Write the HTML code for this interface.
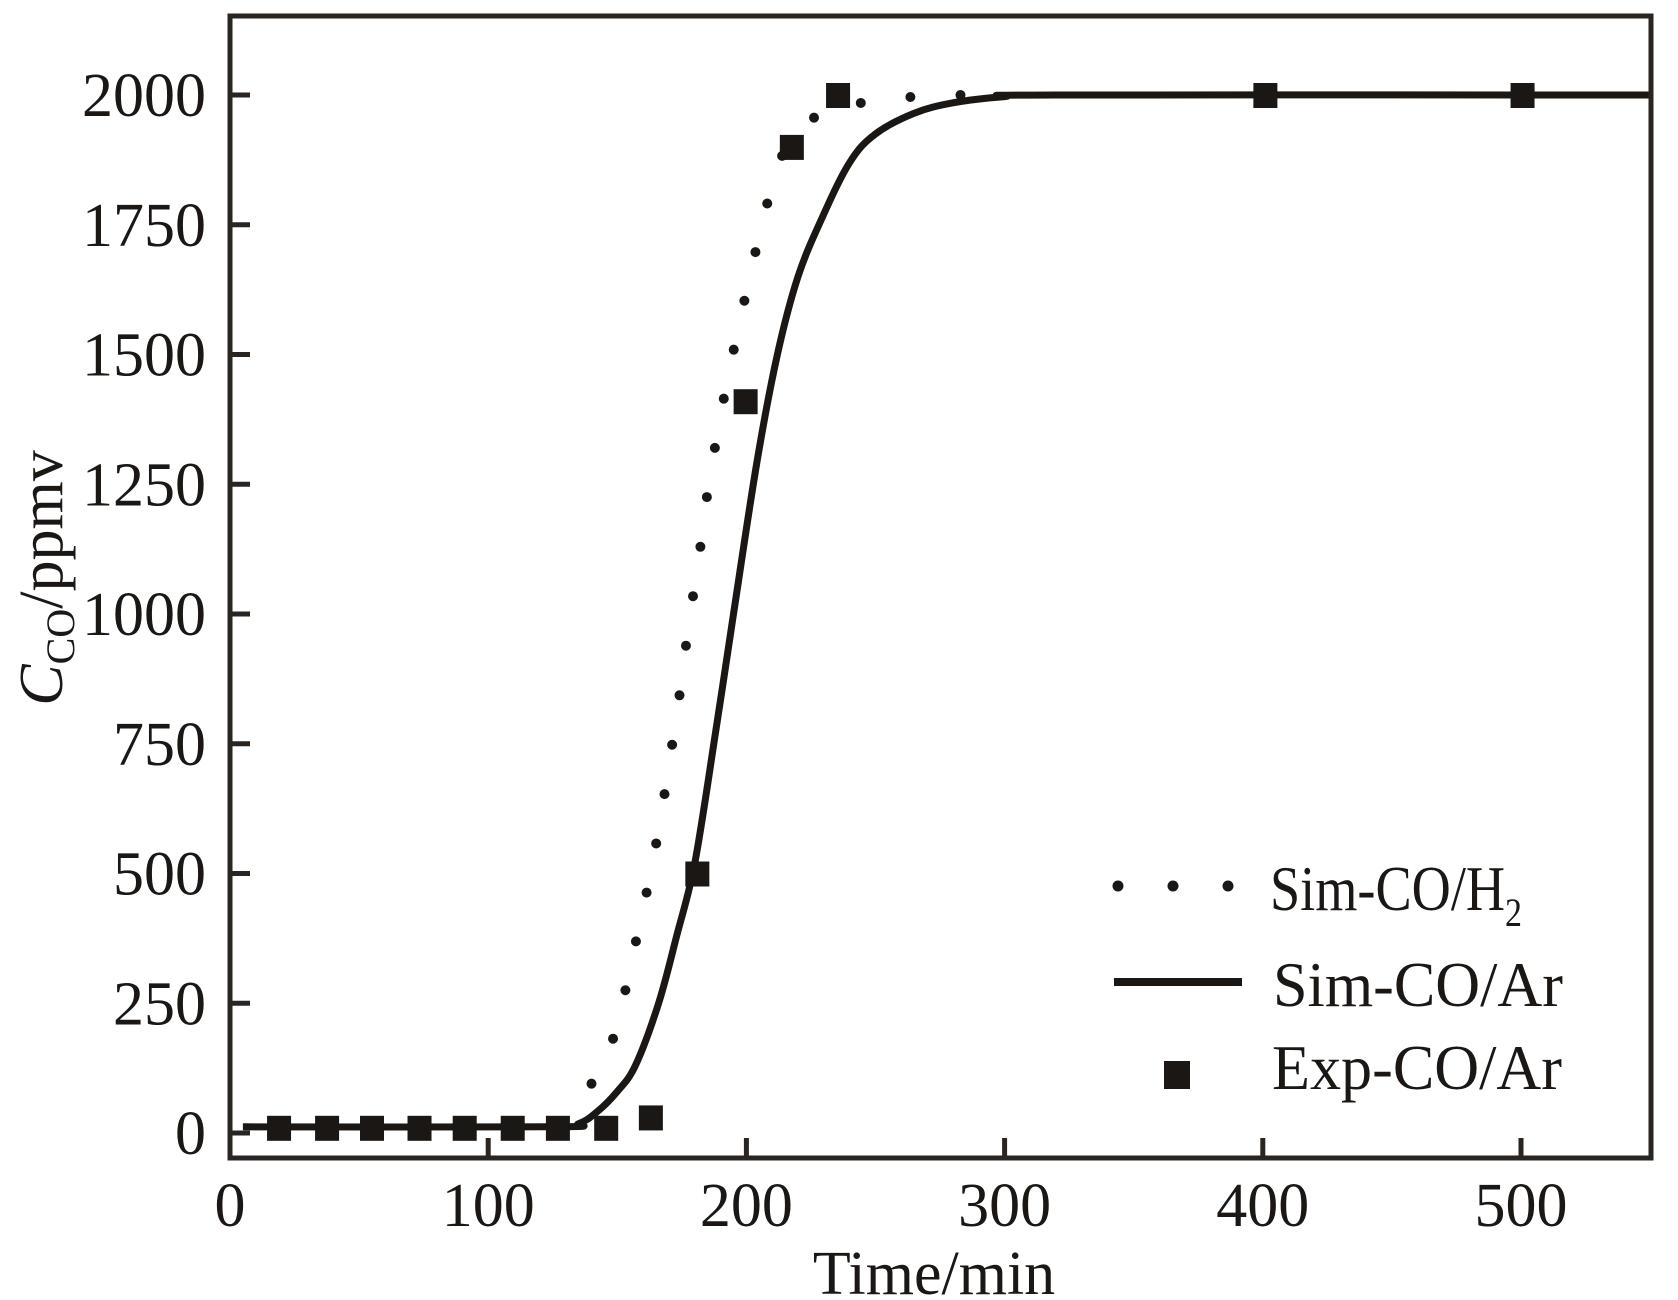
<!DOCTYPE html>
<html><head><meta charset="utf-8"><style>
html,body{margin:0;padding:0;background:#fff;}
svg{display:block;}
text{font-family:"Liberation Serif",serif;fill:#1a1714;}
</style></head><body>
<svg id="chart" width="1678" height="1300" viewBox="0 0 1678 1300" xmlns="http://www.w3.org/2000/svg">
<g id="plot"></g>
<g id="axes"></g>
<g id="legend">
  <line x1="1118" y1="886" x2="1229" y2="886" stroke="#1a1714" stroke-width="11" stroke-linecap="round" stroke-dasharray="0 55"/>
  <text x="1270" y="910" font-size="64" textLength="252" lengthAdjust="spacingAndGlyphs">Sim-CO/H<tspan font-size="40" dy="16">2</tspan></text>
  <line x1="1114" y1="982" x2="1242" y2="982" stroke="#1a1714" stroke-width="8"/>
  <text x="1273" y="1006" font-size="64" textLength="290" lengthAdjust="spacingAndGlyphs">Sim-CO/Ar</text>
  <rect x="1164" y="1061" width="26" height="28" fill="#1a1714"/>
  <text x="1272" y="1089" font-size="64" textLength="290" lengthAdjust="spacingAndGlyphs">Exp-CO/Ar</text>
</g>
<text x="934" y="1294" font-size="62" text-anchor="middle">Time/min</text>
<text transform="translate(62,578) rotate(-90)" font-size="62" text-anchor="middle"><tspan font-style="italic">C</tspan><tspan font-size="40" dy="12">CO</tspan><tspan dy="-12">/ppmv</tspan></text>
</svg>
<script>
const xTicks = [0, 100, 200, 300, 400, 500];
const yTicks = [0, 250, 500, 750, 1000, 1250, 1500, 1750, 2000];
const simArX = [5, 125, 135, 142, 150, 157, 166, 173, 180, 188, 195, 204, 212, 220, 229, 240, 250, 265, 280, 300, 320, 550];
const simArY = [12, 12, 18, 40, 80, 130, 250, 380, 520, 770, 1000, 1290, 1500, 1650, 1760, 1870, 1925, 1965, 1985, 1997, 2000, 2000];
const simH2X = [128, 135, 145.8, 151.7, 155.8, 160, 164.2, 167.5, 170.4, 173.3, 175.8, 178.3, 181.3, 183.8, 186.7, 190, 193.8, 198.3, 202.5, 207.5, 213, 220.4, 230, 251.7, 270.8, 290, 300];
const simH2Y = [20, 58, 147, 245, 338, 431, 535, 629, 722, 815, 909, 1002, 1095, 1195, 1288, 1382, 1479, 1583, 1676, 1780, 1875, 1917, 1970, 1989, 1999, 2000, 2000];
const expX = [19, 37.6, 55, 73.4, 90.9, 109.5, 127, 145.7, 163, 181, 199.7, 217.6, 235.5, 401, 500.6];
const expY = [10, 10, 10, 10, 10, 10, 10, 10, 30, 500, 1410, 1900, 2000, 2000, 2000];

const X0 = 230, X1 = 1651, Y0 = 1158, Y1 = 16;
function sx(v){ return 230 + v * 2.582; }
function sy(v){ return 1133 - v * 0.519; }
const NS = 'http://www.w3.org/2000/svg';
const plot = document.getElementById('plot');
const axes = document.getElementById('axes');
function mk(tag, attrs, parent){ const e = document.createElementNS(NS, tag); for (const k in attrs) e.setAttribute(k, attrs[k]); parent.appendChild(e); return e; }

const frame = mk('rect', {x:X0, y:Y1, width:X1-X0, height:Y0-Y1, fill:'none', stroke:'#2a2520', 'stroke-width':5}, axes);



xTicks.forEach(t => {
  const tk = mk('line', {x1:sx(t), y1:Y0, x2:sx(t), y2:Y0-20, stroke:'#2a2520', 'stroke-width':5}, axes);
  
  
  const lb = mk('text', {x:sx(t), y:1226, 'font-size':62, 'text-anchor':'middle'}, axes);
  lb.textContent = String(t);
  
  
});
yTicks.forEach(t => {
  const tk = mk('line', {x1:X0, y1:sy(t), x2:X0+20, y2:sy(t), stroke:'#2a2520', 'stroke-width':5}, axes);
  
  
  const lb = mk('text', {x:206, y:sy(t)+21, 'font-size':62, 'text-anchor':'end'}, axes);
  lb.textContent = String(t);
  
  
});

function smoothPath(xs, ys){
  const p = xs.map((x,i)=>[sx(x), sy(ys[i])]);
  let d = 'M' + p[0][0].toFixed(1) + ',' + p[0][1].toFixed(1);
  for (let i = 0; i < p.length - 1; i++) {
    const p0 = p[Math.max(0,i-1)], p1 = p[i], p2 = p[i+1], p3 = p[Math.min(p.length-1,i+2)];
    const c1x = p1[0] + (p2[0]-p0[0])/6, c1y = p1[1] + (p2[1]-p0[1])/6;
    const c2x = p2[0] - (p3[0]-p1[0])/6, c2y = p2[1] - (p3[1]-p1[1])/6;
    d += ' C' + c1x.toFixed(1) + ',' + c1y.toFixed(1) + ' ' + c2x.toFixed(1) + ',' + c2y.toFixed(1) + ' ' + p2[0].toFixed(1) + ',' + p2[1].toFixed(1);
  }
  return d;
}

const h2 = mk('path', {d:smoothPath(simH2X, simH2Y), fill:'none', stroke:'#1a1714', 'stroke-width':10, 'stroke-linecap':'round', 'stroke-dasharray':'0 50'}, plot);



const ar = mk('path', {d:smoothPath(simArX, simArY), fill:'none', stroke:'#1a1714', 'stroke-width':7, 'stroke-linejoin':'round'}, plot);



expX.forEach((x,i) => {
  const r = mk('rect', {x:sx(x)-12, y:sy(expY[i])-12, width:24, height:25, fill:'#1a1714'}, plot);
  
  
});
</script>
</body></html>
